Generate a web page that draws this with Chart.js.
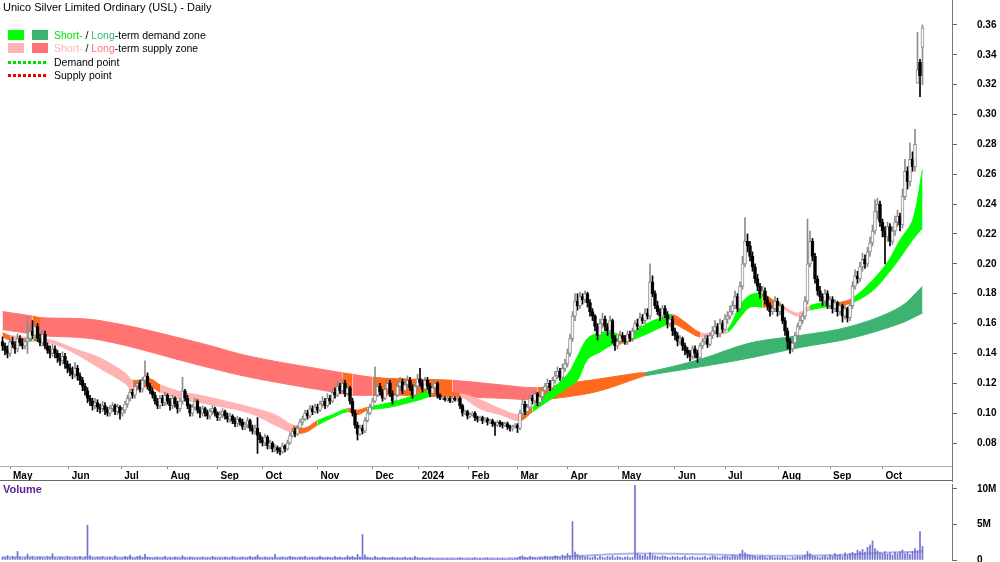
<!DOCTYPE html>
<html>
<head>
<meta charset="utf-8">
<script src="https://cdn.jsdelivr.net/npm/chart.js@4.4.1/dist/chart.umd.min.js"></script>
<style>
body { margin: 0; background: #fff; font-family: "Liberation Sans", Arial, sans-serif; }
#wrap { position: relative; width: 1000px; height: 562px; overflow: hidden; }
canvas { position: absolute; left: 0; }
#price { top: 0; }
#vol { top: 482px; }
.txt { position: absolute; font-size: 10.5px; line-height: 13px; color: #000; white-space: nowrap; }
.sw { position: absolute; width: 16px; height: 10px; }
.dots { position: absolute; width: 40px; height: 3px; }
</style>
</head>
<body>
<div id="wrap">
  <canvas id="price" width="1000" height="482"></canvas>
  <canvas id="vol" width="1000" height="80"></canvas>

  <div class="txt" style="left:3px;top:1px;font-size:11px;line-height:13px">Unico Silver Limited Ordinary (USL) - Daily</div>

  <div class="sw" style="left:8px;top:30px;background:#00ff00"></div>
  <div class="sw" style="left:32px;top:30px;background:#3cb371"></div>
  <div class="txt" style="left:54px;top:29px"><span style="color:#00e000">Short-</span> / <span style="color:#3cb371">Long</span>-term demand zone</div>

  <div class="sw" style="left:8px;top:43px;background:#ffb3b3"></div>
  <div class="sw" style="left:32px;top:43px;background:#ff7373"></div>
  <div class="txt" style="left:54px;top:42px"><span style="color:#ffb3b3">Short-</span> / <span style="color:#ff7373">Long</span>-term supply zone</div>

  <div class="dots" style="left:8px;top:61px;background:repeating-linear-gradient(90deg,#00dd00 0 3px,transparent 3px 5px)"></div>
  <div class="txt" style="left:54px;top:56px">Demand point</div>

  <div class="dots" style="left:8px;top:74px;background:repeating-linear-gradient(90deg,#ee0000 0 3px,transparent 3px 5px)"></div>
  <div class="txt" style="left:54px;top:69px">Supply point</div>

  <div class="txt" style="left:3px;top:483px;font-size:11px;color:#5a1e96;font-weight:bold">Volume</div>
  <div style="position:absolute;left:0;top:480px;width:952px;height:1px;background:#666"></div>
</div>

<script>
// month boundaries (trading-day index) and their labels
const monthPos = [3, 26.5, 47.5, 66, 86, 104, 126, 148, 166.5, 186.5, 206, 226, 246.5, 269, 289, 310.5, 331, 352];
const monthLabels = ["May", "Jun", "Jul", "Aug", "Sep", "Oct", "Nov", "Dec", "2024", "Feb", "Mar", "Apr", "May", "Jun", "Jul", "Aug", "Sep", "Oct"];

const priceTicks = [0.08, 0.10, 0.12, 0.14, 0.16, 0.18, 0.20, 0.22, 0.24, 0.26, 0.28, 0.30, 0.32, 0.34, 0.36];
const priceTickLabels = ["0.08", "0.10", "0.12", "0.14", "0.16", "0.18", "0.20", "0.22", "0.24", "0.26", "0.28", "0.30", "0.32", "0.34", "0.36"];
const volTicks = [0, 5, 10];
const volTickLabels = ["0", "5M", "10M"];

// daily prices ($)
const opens = [.148,.145,.142,.140,.148,.146,.143,.150,.147,.145,
.148,.150,.155,.152,.158,.150,.147,.153,.145,.142,
.140,.143,.140,.137,.135,.138,.133,.130,.128,.126,
.130,.125,.122,.118,.115,.110,.108,.105,.107,.104,
.103,.105,.102,.100,.103,.105,.101,.104,.100,.102,
.106,.110,.114,.112,.118,.120,.116,.122,.125,.118,
.115,.112,.108,.105,.110,.107,.112,.108,.105,.110,
.106,.103,.108,.115,.110,.105,.100,.104,.108,.102,
.100,.103,.100,.098,.101,.103,.100,.097,.099,.101,
.098,.096,.098,.095,.093,.096,.094,.091,.092,.095,
.090,.088,.090,.085,.082,.080,.084,.078,.080,.076,
.077,.075,.074,.078,.076,.080,.085,.088,.086,.090,
.094,.096,.100,.098,.103,.101,.104,.102,.106,.108,
.105,.110,.108,.114,.112,.118,.115,.120,.113,.117,
.108,.100,.092,.086,.090,.088,.095,.100,.104,.108,
.112,.118,.114,.110,.116,.120,.113,.108,.112,.118,
.121,.115,.119,.122,.117,.112,.118,.123,.120,.116,
.122,.118,.113,.117,.120,.112,.110,.110,.109,.110,
.108,.110,.109,.110,.105,.100,.101,.098,.099,.100,
.097,.096,.097,.095,.096,.094,.095,.093,.092,.094,
.093,.092,.093,.091,.090,.091,.092,.090,.100,.106,
.101,.104,.110,.108,.113,.107,.111,.115,.118,.120,
.117,.122,.125,.128,.124,.130,.133,.140,.150,.165,
.175,.172,.178,.176,.180,.174,.168,.165,.158,.152,
.160,.163,.158,.155,.162,.150,.145,.148,.152,.150,
.148,.153,.150,.155,.160,.158,.164,.162,.167,.165,
.188,.180,.172,.168,.165,.170,.166,.160,.163,.155,
.152,.148,.150,.145,.142,.140,.138,.143,.140,.137,
.145,.148,.150,.146,.152,.155,.158,.153,.160,.156,
.163,.165,.168,.172,.178,.170,.185,.200,.215,.212,
.205,.198,.190,.185,.180,.182,.176,.172,.168,.170,
.175,.168,.172,.162,.155,.148,.143,.147,.152,.158,
.162,.165,.175,.200,.215,.205,.190,.182,.178,.175,
.180,.172,.176,.170,.174,.168,.172,.165,.170,.164,
.172,.185,.192,.190,.198,.203,.200,.208,.214,.222,
.235,.240,.228,.222,.218,.225,.215,.222,.228,.232,
.226,.245,.262,.255,.270,.265,.321,.335,.345];

const highs = [.151,.147,.145,.150,.151,.148,.153,.152,.150,.150,
.165,.158,.162,.160,.160,.153,.156,.155,.147,.145,
.146,.145,.142,.140,.141,.140,.135,.133,.131,.134,
.132,.127,.124,.120,.117,.112,.110,.110,.109,.106,
.108,.107,.104,.105,.107,.106,.106,.105,.104,.108,
.112,.116,.116,.120,.122,.122,.124,.135,.127,.120,
.117,.114,.110,.112,.112,.114,.113,.110,.112,.111,
.108,.110,.124,.116,.112,.106,.106,.110,.109,.104,
.105,.104,.102,.103,.105,.104,.101,.101,.103,.102,
.100,.100,.099,.097,.098,.097,.096,.094,.097,.096,
.092,.092,.097,.087,.084,.086,.085,.082,.081,.079,
.078,.077,.080,.079,.082,.087,.090,.090,.092,.096,
.098,.102,.102,.105,.105,.106,.106,.108,.111,.110,
.113,.112,.116,.117,.121,.120,.123,.122,.119,.118,
.110,.102,.094,.092,.092,.097,.102,.106,.110,.131,
.120,.120,.116,.118,.123,.122,.115,.114,.120,.124,
.123,.121,.125,.124,.119,.120,.126,.130,.122,.124,
.124,.120,.119,.122,.121,.113,.111,.111,.111,.111,
.111,.111,.111,.111,.106,.102,.102,.100,.101,.101,
.098,.098,.098,.097,.097,.096,.096,.094,.095,.095,
.094,.094,.094,.092,.092,.093,.093,.102,.110,.108,
.106,.112,.112,.115,.114,.113,.117,.120,.123,.122,
.124,.128,.131,.130,.133,.136,.143,.153,.168,.180,
.180,.181,.180,.182,.181,.176,.170,.166,.160,.163,
.167,.165,.160,.165,.163,.152,.150,.155,.154,.152,
.155,.155,.157,.162,.163,.167,.166,.170,.170,.200,
.192,.182,.175,.170,.172,.172,.168,.165,.165,.157,
.154,.152,.151,.147,.144,.142,.145,.145,.142,.147,
.150,.152,.152,.154,.158,.162,.160,.163,.162,.166,
.168,.172,.175,.182,.180,.188,.205,.231,.220,.215,
.208,.200,.193,.187,.185,.184,.178,.174,.172,.178,
.177,.174,.173,.164,.157,.150,.149,.154,.160,.165,
.167,.178,.230,.222,.217,.207,.192,.185,.180,.183,
.182,.178,.178,.176,.175,.174,.173,.172,.171,.174,
.188,.196,.195,.201,.207,.206,.211,.218,.226,.243,
.244,.242,.230,.225,.228,.227,.225,.232,.236,.234,
.250,.270,.265,.281,.275,.290,.355,.337,.360];

const lows = [.142,.139,.137,.138,.144,.140,.141,.145,.143,.143,
.140,.148,.150,.150,.148,.145,.145,.143,.140,.137,
.138,.137,.134,.132,.133,.130,.127,.125,.123,.124,
.122,.119,.115,.112,.107,.105,.102,.103,.101,.100,
.101,.099,.098,.098,.101,.099,.099,.096,.098,.100,
.104,.108,.110,.110,.116,.114,.114,.120,.116,.113,
.110,.106,.103,.103,.105,.105,.106,.102,.103,.104,
.100,.101,.106,.108,.103,.098,.098,.102,.100,.097,
.098,.098,.096,.096,.099,.098,.095,.095,.097,.096,
.094,.094,.093,.091,.091,.092,.089,.089,.090,.088,
.086,.086,.073,.080,.078,.078,.076,.076,.074,.074,
.073,.072,.073,.074,.075,.079,.084,.084,.085,.089,
.092,.095,.096,.097,.099,.100,.100,.101,.104,.103,
.104,.106,.107,.110,.111,.113,.114,.111,.112,.106,
.098,.090,.082,.085,.086,.087,.094,.099,.103,.107,
.111,.112,.108,.109,.115,.111,.106,.107,.111,.116,
.113,.114,.117,.115,.110,.111,.116,.118,.114,.115,
.116,.111,.112,.116,.110,.109,.109,.108,.108,.107,
.107,.108,.108,.103,.098,.099,.096,.097,.098,.095,
.094,.095,.093,.094,.092,.093,.091,.085,.091,.091,
.090,.091,.089,.088,.088,.090,.087,.089,.098,.099,
.099,.102,.106,.106,.105,.105,.109,.113,.116,.115,
.115,.120,.123,.122,.122,.128,.131,.138,.148,.162,
.169,.170,.173,.174,.171,.165,.162,.155,.149,.150,
.157,.155,.152,.153,.147,.142,.143,.146,.148,.146,
.146,.148,.148,.153,.156,.156,.160,.160,.163,.163,
.178,.170,.166,.162,.163,.164,.157,.158,.152,.149,
.145,.146,.142,.139,.137,.135,.136,.137,.134,.135,
.143,.146,.144,.145,.150,.153,.151,.151,.154,.155,
.160,.163,.166,.170,.168,.168,.183,.198,.208,.202,
.195,.187,.182,.177,.178,.173,.169,.165,.166,.168,
.165,.166,.160,.152,.143,.140,.141,.145,.150,.156,
.160,.163,.173,.198,.202,.187,.179,.175,.172,.173,
.170,.170,.167,.168,.165,.166,.161,.163,.161,.162,
.170,.183,.187,.188,.195,.197,.198,.205,.212,.220,
.230,.225,.218,.200,.215,.212,.213,.219,.225,.222,
.224,.243,.250,.252,.262,.262,.321,.312,.320];

const closes = [.145,.142,.140,.148,.146,.143,.150,.147,.145,.148,
.150,.155,.152,.158,.150,.147,.153,.145,.142,.140,
.143,.140,.137,.135,.138,.133,.130,.128,.126,.130,
.125,.122,.118,.115,.110,.108,.105,.107,.104,.103,
.105,.102,.100,.103,.105,.101,.104,.100,.102,.106,
.110,.114,.112,.118,.120,.116,.122,.125,.118,.115,
.112,.108,.105,.110,.107,.112,.108,.105,.110,.106,
.103,.108,.115,.110,.105,.100,.104,.108,.102,.100,
.103,.100,.098,.101,.103,.100,.097,.099,.101,.098,
.096,.098,.095,.093,.096,.094,.091,.092,.095,.090,
.088,.090,.085,.082,.080,.084,.078,.080,.076,.077,
.075,.074,.078,.076,.080,.085,.088,.086,.090,.094,
.096,.100,.098,.103,.101,.104,.102,.106,.108,.105,
.110,.108,.114,.112,.118,.115,.120,.113,.117,.108,
.100,.092,.086,.090,.088,.095,.100,.104,.108,.112,
.118,.114,.110,.116,.120,.113,.108,.112,.118,.121,
.115,.119,.122,.117,.112,.118,.123,.120,.116,.122,
.118,.113,.117,.120,.112,.110,.110,.109,.110,.108,
.110,.109,.110,.105,.100,.101,.098,.099,.100,.097,
.096,.097,.095,.096,.094,.095,.093,.092,.094,.093,
.092,.093,.091,.090,.091,.092,.090,.100,.106,.101,
.104,.110,.108,.113,.107,.111,.115,.118,.120,.117,
.122,.125,.128,.124,.130,.133,.140,.150,.165,.175,
.172,.178,.176,.180,.174,.168,.165,.158,.152,.160,
.163,.158,.155,.162,.150,.145,.148,.152,.150,.148,
.153,.150,.155,.160,.158,.164,.162,.167,.165,.188,
.180,.172,.168,.165,.170,.166,.160,.163,.155,.152,
.148,.150,.145,.142,.140,.138,.143,.140,.137,.145,
.148,.150,.146,.152,.155,.158,.153,.160,.156,.163,
.165,.168,.172,.178,.170,.185,.200,.215,.212,.205,
.198,.190,.185,.180,.182,.176,.172,.168,.170,.175,
.168,.172,.162,.155,.148,.143,.147,.152,.158,.162,
.165,.175,.200,.215,.205,.190,.182,.178,.175,.180,
.172,.176,.170,.174,.168,.172,.165,.170,.164,.172,
.185,.192,.190,.198,.203,.200,.208,.214,.222,.235,
.240,.228,.222,.218,.225,.215,.222,.228,.232,.226,
.245,.262,.255,.270,.265,.280,.330,.326,.358];

// daily volume (millions of shares)
const volumes = [.4,.3,.6,.2,.5,.3,1.2,.4,.2,.3,
.8,.3,.5,.2,.4,.4,.3,.2,.5,.3,
.9,.3,.2,.4,.3,.2,.5,.3,.2,.4,
.3,.5,.2,.4,4.9,.6,.3,.2,.4,.3,
.5,.2,.3,.4,.2,.6,.3,.2,.3,.5,
.4,.7,.3,.2,.5,.6,.3,.8,.4,.3,
.2,.3,.4,.2,.3,.5,.2,.3,.2,.4,
.3,.2,.6,.3,.2,.4,.3,.2,.3,.2,
.4,.2,.3,.2,.5,.3,.2,.3,.2,.4,
.3,.2,.5,.3,.2,.3,.4,.2,.3,.5,
.3,.4,.7,.3,.2,.4,.3,.2,.3,.8,
.2,.3,.4,.2,.3,.5,.4,.3,.2,.4,
.3,.5,.2,.3,.4,.2,.3,.5,.3,.2,
.4,.3,.2,.5,.3,.4,.2,.3,.6,.4,
.5,.3,.8,.4,3.6,.7,.4,.3,.2,.5,
.3,.2,.4,.3,.2,.3,.4,.2,.3,.2,
.3,.4,.2,.3,.2,.5,.3,.2,.3,.2,
.2,.3,.2,.1,.2,.1,.2,.1,.2,.1,
.2,.1,.2,.3,.2,.1,.2,.1,.2,.3,
.1,.2,.1,.2,.3,.1,.2,.1,.2,.1,
.2,.1,.1,.2,.1,.2,.3,.5,.6,.4,
.3,.5,.4,.3,.2,.4,.3,.5,.4,.3,
.4,.6,.5,.3,.7,.5,.9,.6,5.4,1.1,
.8,.5,.6,.4,.5,.3,.4,.6,.3,.5,
.4,.3,.5,.4,.6,.3,.5,.4,.3,.4,
.5,.3,.4,10.5,.9,.7,.6,.8,.5,1.0,
.7,.6,.5,.4,.6,.5,.4,.3,.5,.4,
.5,.3,.4,.6,.3,.4,.5,.3,.4,.3,
.4,.5,.3,.4,.6,.5,.4,.3,.5,.6,
.5,.4,.7,.6,.5,.9,1.4,1.0,.8,.7,
.6,.5,.4,.5,.6,.4,.3,.5,.4,.3,
.4,.3,.5,.4,.3,.2,.4,.3,.5,.4,
.5,.7,1.2,.9,.6,.5,.4,.3,.5,.6,
.4,.7,.5,.9,.6,.8,.5,1.0,.7,.9,
1.1,.9,1.4,1.2,1.5,1.1,1.8,2.1,2.7,1.6,
1.3,1.0,.9,1.2,.8,1.0,.7,1.1,.9,1.2,
1.4,.9,1.1,.8,1.2,1.6,1.3,4.0,1.9];

const volAvgX = [0, 40, 80, 120, 170, 206, 226, 253, 280, 310, 335, 350, 368];
const volAvg = [.4, .35, .3, .3, .2, .25, .5, .9, .8, .6, .7, 1.0, 1.2];

// short-term zone: edges and zone type per segment
const shortX = [0,3,19,29,39,49,52,59,63,72,79,99,109,116,121,126,132,138,142,146,155,167,171,183,191,199,207,212,219,226,230,234,239,244,246,249,252,259,264,268,273,279,285,290,295,299,304,308,312,318,323,329,334,340,348,354,359,364,368];
const shortTop = [.154,.152,.149,.143,.137,.127,.122,.123,.119,.114,.112,.104,.099,.092,.090,.095,.099,.103,.102,.104,.107,.113,.115,.113,.109,.103,.099,.104,.115,.126,.138,.150,.154,.154,.153,.152,.154,.161,.164,.166,.161,.154,.154,.156,.172,.179,.180,.176,.172,.167,.172,.174,.174,.177,.189,.201,.216,.229,.263];
const shortBot = [.151,.149,.147,.140,.130,.120,.115,.118,.114,.109,.107,.100,.092,.087,.087,.092,.097,.101,.099,.102,.104,.109,.111,.111,.103,.099,.095,.101,.109,.117,.122,.136,.141,.146,.147,.147,.149,.154,.158,.160,.156,.151,.153,.154,.164,.171,.171,.171,.170,.165,.169,.171,.172,.174,.182,.193,.204,.216,.224];
const shortZone = ["O","S","S","S","S","S","O","O","S","S","S","S","S","O","O","D","D","O","O","D","D","D","O","S","S","S","O","D","D","D","D","D","D","D","O","O","D","D","D","O","O","S","S","D","D","D","O","O","S","S","D","D","O","D","D","D","D","D","D"];

// long-term zone
const longX = [0,12,15,39,79,99,136,140,148,159,180,199,214,226,239,255,257,279,299,319,339,359,368];
const longTop = [.168,.165,.164,.162,.147,.138,.127,.126,.124,.123,.122,.119,.117,.120,.123,.127,.127,.136,.147,.152,.158,.171,.185];
const longBot = [.156,.153,.152,.149,.132,.124,.113,.112,.112,.112,.111,.110,.109,.111,.115,.124,.125,.131,.137,.144,.150,.160,.167];
const longZone = ["L","O","L","L","L","L","O","L","O","O","L","L","O","O","O","O","G","G","G","G","G","G","G"];

const demandX = [11, 15];
const demandY = [.149, .149];

const zoneColor = { S: "#ffb3b3", O: "#ff6a1c", D: "#00ff00", L: "#ff7373", G: "#3cb371" };
const FONT = "'Liberation Sans', Arial, sans-serif";

const idx = closes.map((_, i) => i);
const up = idx.map(i => closes[i] >= opens[i]);
const candleColor = idx.map(i => up[i] ? "#8c8c8c" : "#000000");
const bodyFill = idx.map(i => up[i] ? "#ffffff" : "#000000");

function pts(xs, ys) {
  return xs.map((x, i) => ({ x: x, y: ys[i] }));
}

function zoneSets(xs, top, bot, zone, order) {
  const col = c => zoneColor[zone[c.p0DataIndex]];
  return [
    { type: "line", data: pts(xs, bot), borderWidth: 1, pointRadius: 0, tension: 0.35, fill: false, order: order,
      segment: { borderColor: col } },
    { type: "line", data: pts(xs, top), borderWidth: 1, pointRadius: 0, tension: 0.35, fill: "-1", order: order,
      segment: { borderColor: col, backgroundColor: col } }
  ];
}

// right axis: fixed width, no extra padding above/below the plot
function fitRight(s) {
  s.width = 48;
  s.paddingTop = 0;
  s.paddingBottom = 0;
}

// carries the right axis line down through the date row
const axisTail = {
  id: "axisTail",
  afterDraw(chart) {
    const c = chart.ctx, a = chart.chartArea;
    c.save();
    c.strokeStyle = "#777";
    c.lineWidth = 1;
    c.beginPath();
    c.moveTo(a.right + 0.5, a.bottom);
    c.lineTo(a.right + 0.5, chart.height);
    c.stroke();
    c.restore();
  }
};

new Chart(document.getElementById("price"), {
  type: "bar",
  data: {
    datasets: [
      { data: idx.map(i => ({ x: i, y: [opens[i], closes[i]] })), backgroundColor: bodyFill, borderColor: candleColor,
        borderWidth: 1, borderSkipped: false, barThickness: 3, minBarLength: 1, grouped: false, order: 0 },
      { data: idx.map(i => ({ x: i, y: [lows[i], highs[i]] })), backgroundColor: candleColor,
        borderWidth: 0, barThickness: 1, grouped: false, order: 1 },
      ...zoneSets(longX, longTop, longBot, longZone, 4),
      ...zoneSets(shortX, shortTop, shortBot, shortZone, 3),
      { type: "line", data: pts(demandX, demandY), borderColor: "#00cc00", borderWidth: 2, borderDash: [2, 2],
        pointRadius: 0, fill: false, order: 2 }
    ]
  },
  options: {
    responsive: false,
    animation: false,
    devicePixelRatio: 1,
    layout: { padding: 0 },
    plugins: { legend: { display: false }, tooltip: { enabled: false } },
    scales: {
      x: {
        type: "linear", min: -1, max: 379.8, offset: false,
        grid: { drawOnChartArea: false, drawTicks: true, tickLength: 3, color: "#888", offset: false },
        border: { display: true, color: "#aaa" },
        afterBuildTicks: s => { s.ticks = monthPos.map(v => ({ value: v })); },
        afterFit: s => { s.height = 16; s.paddingLeft = 0; s.paddingRight = 0; },
        ticks: { autoSkip: false, maxRotation: 0, align: "start", labelOffset: 3, padding: 1, color: "#000",
          font: { family: FONT, size: 10, weight: "bold" }, callback: (v, i) => monthLabels[i] }
      },
      y: {
        position: "right", min: 0.0646, max: 0.3767,
        grid: { drawOnChartArea: false, tickLength: 5, color: "#666" },
        border: { color: "#777" },
        afterBuildTicks: s => { s.ticks = priceTicks.map(v => ({ value: v })); },
        afterFit: fitRight,
        ticks: { padding: 20, color: "#000", font: { family: FONT, size: 10, weight: "bold" },
          callback: (v, i) => priceTickLabels[i] }
      }
    }
  },
  plugins: [axisTail]
});

new Chart(document.getElementById("vol"), {
  type: "bar",
  data: {
    datasets: [
      { data: idx.map(i => ({ x: i, y: volumes[i] })), backgroundColor: "#7272d0", barThickness: 1, grouped: false, order: 0 },
      { type: "line", data: pts(volAvgX, volAvg), borderColor: "rgba(170,170,235,0.9)", borderWidth: 2,
        pointRadius: 0, tension: 0.3, fill: false, order: 1 }
    ]
  },
  options: {
    responsive: false,
    animation: false,
    devicePixelRatio: 1,
    layout: { padding: { top: 2, bottom: 2 } },
    plugins: { legend: { display: false }, tooltip: { enabled: false } },
    scales: {
      x: { type: "linear", min: -1, max: 379.8, offset: false, display: false },
      y: {
        position: "right", min: 0, max: 10.7,
        grid: { drawOnChartArea: false, tickLength: 5, color: "#666" },
        border: { color: "#777" },
        afterBuildTicks: s => { s.ticks = volTicks.map(v => ({ value: v })); },
        afterFit: fitRight,
        ticks: { padding: 20, color: "#000", font: { family: FONT, size: 10, weight: "bold" },
          callback: (v, i) => volTickLabels[i] }
      }
    }
  }
});
</script>
</body>
</html>
